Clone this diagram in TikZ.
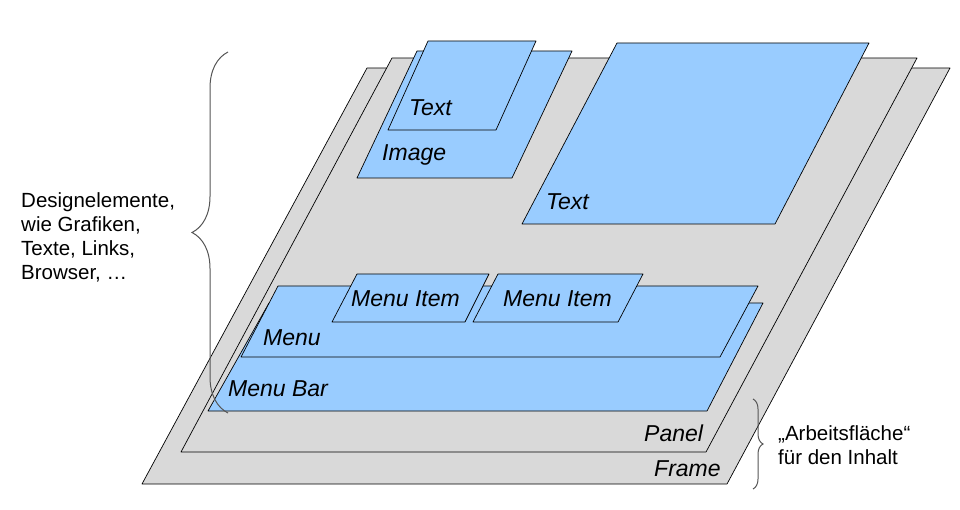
\documentclass[tikz,border=0pt]{standalone}
\usepackage{fontspec}
\setmainfont{Liberation Sans}
\usetikzlibrary{decorations.pathreplacing}

\definecolor{layergray}{RGB}{217,217,217}
\definecolor{layerblue}{RGB}{153,204,255}
\definecolor{bracegray}{RGB}{85,85,85}

\tikzset{
  grayplane/.style={draw=black, fill=layergray, line width=0.7pt, line join=round},
  blueplane/.style={draw=black, fill=layerblue, line width=0.7pt, line join=round},
  layerlabel/.style={font=\fontsize{23}{27}\selectfont\itshape, inner sep=0pt, anchor=west},
  notetext/.style={font=\fontsize{20.5}{24}\selectfont, align=left, inner sep=0pt, anchor=west},
  bracket/.style={draw=bracegray, line width=1pt, decorate, decoration={brace, amplitude=#1}}
}

\begin{document}
\begin{tikzpicture}[x=1pt, y=-1pt]
\useasboundingbox (0,0) rectangle (960,510);

 %% ***Base layers : Frame and Panel***
\draw[grayplane] (142,484) -- (367,68) -- (950,68) -- (727,484) -- cycle;
\node[layerlabel] (frame) at (654,469) {Frame};
\draw[grayplane] (181,452) -- (392,58) -- (917,58) -- (706,452) -- cycle;
\node[layerlabel] (panel) at (644,433) {Panel};

 %% ***Content : Text, Image***
\draw[blueplane] (522,224) -- (617,43) -- (869,43) -- (775,224) -- cycle;
\node[layerlabel] (bigtext) at (546,202) {Text};
\draw[blueplane] (357,178) -- (417,51) -- (572,51) -- (512,178) -- cycle;
\node[layerlabel] (image) at (382,155) {Image};
\draw[blueplane] (388,130) -- (428,41) -- (536,41) -- (496,130) -- cycle;
\node[layerlabel] (smalltext) at (409,108) {Text};

 %% ***Menu Bar, Menu and its items***
\draw[blueplane] (208,411) -- (269,303) -- (763,303) -- (707,411) -- cycle;
\node[layerlabel] (menubar) at (228,389) {Menu Bar};
\draw[blueplane] (241,357) -- (278,286) -- (758,286) -- (720,357) -- cycle;
\node[layerlabel] (menu) at (263,338) {Menu};
\draw[blueplane] (332,322) -- (357,274) -- (489,274) -- (465,322) -- cycle;
\node[layerlabel] (itemA) at (351,299) {Menu Item};
\draw[blueplane] (473,322) -- (498,274) -- (643,274) -- (618,322) -- cycle;
\node[layerlabel] (itemB) at (503,299) {Menu Item};

 %% ***Braces with notes***
\draw[bracket=36pt] (228,413) -- (228,52);
\node[notetext] (design) at (21,237) {Designelemente,\\wie Grafiken,\\Texte, Links,\\Browser, …};
\draw[bracket=10pt] (753,399) -- (753,489);
\node[notetext] (workarea) at (778,445) {„Arbeitsfläche“\\für den Inhalt};

\end{tikzpicture}
\end{document}
